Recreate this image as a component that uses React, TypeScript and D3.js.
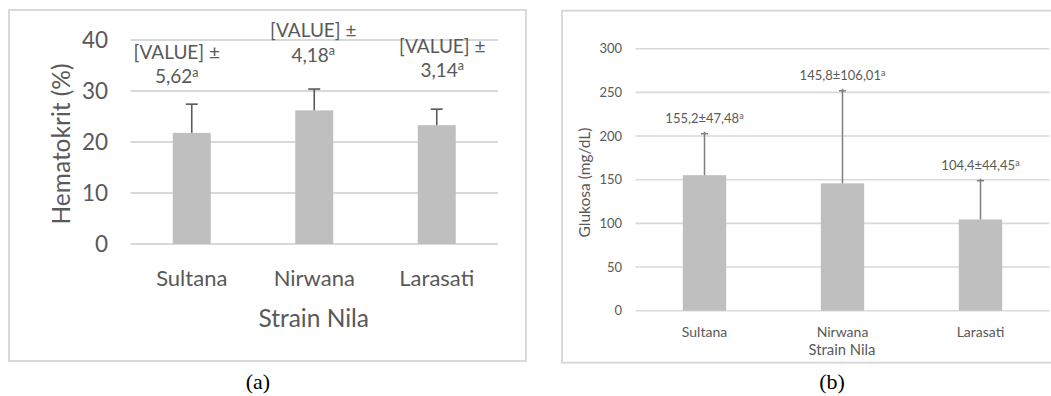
import React from "react";
import * as d3 from "d3";

// Strains on the x axis (shared by both panels)
const strains = ["Sultana", "Nirwana", "Larasati"];

// Panel (a): haematocrit means and standard deviations
const hematokritMean = [21.8, 26.2, 23.3];
const hematokritSD = [5.62, 4.18, 3.14];
const hematokritTicks = [0, 10, 20, 30, 40];

// Panel (b): blood glucose means and standard deviations
const glukosaMean = [155.2, 145.8, 104.4];
const glukosaSD = [47.48, 106.01, 44.45];
const glukosaTicks = [0, 50, 100, 150, 200, 250, 300];

// Significance letter attached to each label
const letters = ["a", "a", "a"];

const TEXT = "#595959";
const GRID = "#d9d9d9";
const BAR = "#bfbfbf";
const FONT = "Lato, 'Open Sans', sans-serif";

const fmt = (v: number, digits: number) => v.toFixed(digits).replace(".", ",");

function PanelA() {
  const x = d3.scaleBand<string>().domain(strains).range([130.5, 498]).paddingInner(0.69).paddingOuter(0.345);
  const y = d3.scaleLinear().domain([0, 40]).range([244, 40]);
  // manual label placement (horizontal shift from the bar centre, and top line in value units)
  const labelDx = [-15, -1, 5.5];
  const labelTop = [37.6, 41.9, 38.8];
  return (
    <g>
      <rect x={9} y={10} width={517} height={351} fill="#fff" stroke={GRID} strokeWidth={2} />
      {hematokritTicks.map((t) => (
        <g key={t}>
          <line x1={130.5} x2={498} y1={y(t)} y2={y(t)} stroke={GRID} strokeWidth={2} />
          <text x={108} y={y(t)} dy="0.35em" textAnchor="end" fontSize={22.5} fill={TEXT} fontFamily={FONT}>
            {t}
          </text>
        </g>
      ))}
      {strains.map((s, i) => {
        const cx = x(s)! + x.bandwidth() / 2;
        const top = y(hematokritMean[i]);
        const err = y(hematokritMean[i] + hematokritSD[i]);
        const lx = cx + labelDx[i];
        const ly = y(labelTop[i]);
        return (
          <g key={s}>
            <rect x={x(s)} y={top} width={x.bandwidth()} height={y(0) - top} fill={BAR} />
            <line x1={cx} x2={cx} y1={top} y2={err} stroke={TEXT} strokeWidth={1.6} />
            <line x1={cx - 6} x2={cx + 6} y1={err} y2={err} stroke={TEXT} strokeWidth={1.6} />
            <text x={cx} y={278} dy="0.35em" textAnchor="middle" fontSize={22} fill={TEXT} fontFamily={FONT}>
              {s}
            </text>
            <text x={lx} y={ly} dy="0.35em" textAnchor="middle" fontSize={19} fill={TEXT} fontFamily={FONT}>
              [VALUE] ±
            </text>
            <text x={lx} y={ly + 24.6} dy="0.35em" textAnchor="middle" fontSize={19} fill={TEXT} fontFamily={FONT}>
              {fmt(hematokritSD[i], 2)}
              <tspan fontSize={12.5} dy="-0.55em">{letters[i]}</tspan>
            </text>
          </g>
        );
      })}
      <text x={313.7} y={318.7} dy="0.35em" textAnchor="middle" fontSize={24.5} fill={TEXT} fontFamily={FONT}>
        Strain Nila
      </text>
      <text
        transform="translate(61,144) rotate(-90)"
        dy="0.35em"
        textAnchor="middle"
        fontSize={24.5}
        fill={TEXT}
        fontFamily={FONT}
      >
        Hematokrit (%)
      </text>
      <text x={258} y={389} textAnchor="middle" fontSize={22} fill="#000" fontFamily="'Liberation Serif', 'DejaVu Serif', serif">
        (a)
      </text>
    </g>
  );
}

function PanelB() {
  const x = d3.scaleBand<string>().domain(strains).range([635.5, 1049.5]).paddingInner(0.686).paddingOuter(0.343);
  const y = d3.scaleLinear().domain([0, 300]).range([310.7, 48.7]);
  return (
    <g>
      <rect x={562} y={10.7} width={500} height={352} fill="#fff" stroke={GRID} strokeWidth={2} />
      {glukosaTicks.map((t) => (
        <g key={t}>
          <line x1={635.5} x2={1049.5} y1={y(t)} y2={y(t)} stroke={GRID} strokeWidth={1.6} />
          <text x={622} y={y(t)} dy="0.35em" textAnchor="end" fontSize={13} fill={TEXT} fontFamily={FONT}>
            {t}
          </text>
        </g>
      ))}
      {strains.map((s, i) => {
        const cx = x(s)! + x.bandwidth() / 2;
        const top = y(glukosaMean[i]);
        const err = y(glukosaMean[i] + glukosaSD[i]);
        return (
          <g key={s}>
            <rect x={x(s)} y={top} width={x.bandwidth()} height={y(0) - top} fill={BAR} />
            <line x1={cx} x2={cx} y1={top} y2={err - 2} stroke="#7f7f7f" strokeWidth={1.5} />
            <line x1={cx - 3.5} x2={cx + 3.5} y1={err} y2={err} stroke="#7f7f7f" strokeWidth={1.5} />
            <text x={cx} y={331.7} dy="0.35em" textAnchor="middle" fontSize={14} fill={TEXT} fontFamily={FONT}>
              {s}
            </text>
            <text x={cx} y={err - 15} dy="0.35em" textAnchor="middle" fontSize={13} fill={TEXT} fontFamily={FONT}>
              {fmt(glukosaMean[i], 1)}±{fmt(glukosaSD[i], 2)}
              <tspan fontSize={9} dy="-0.5em">{letters[i]}</tspan>
            </text>
          </g>
        );
      })}
      <text x={842} y={350} dy="0.35em" textAnchor="middle" fontSize={14.8} fill={TEXT} fontFamily={FONT}>
        Strain Nila
      </text>
      <text
        transform="translate(585,182.5) rotate(-90)"
        dy="0.35em"
        textAnchor="middle"
        fontSize={15.5}
        fill={TEXT}
        fontFamily={FONT}
      >
        Glukosa (mg/dL)
      </text>
      <text x={832} y={389} textAnchor="middle" fontSize={22} fill="#000" fontFamily="'Liberation Serif', 'DejaVu Serif', serif">
        (b)
      </text>
    </g>
  );
}

export default function App() {
  return (
    <svg
      width={1051}
      height={396}
      style={{ position: "absolute", left: 0, top: 0, background: "#fff" }}
    >
      <rect width={1051} height={396} fill="#fff" />
      <PanelA />
      <PanelB />
    </svg>
  );
}
